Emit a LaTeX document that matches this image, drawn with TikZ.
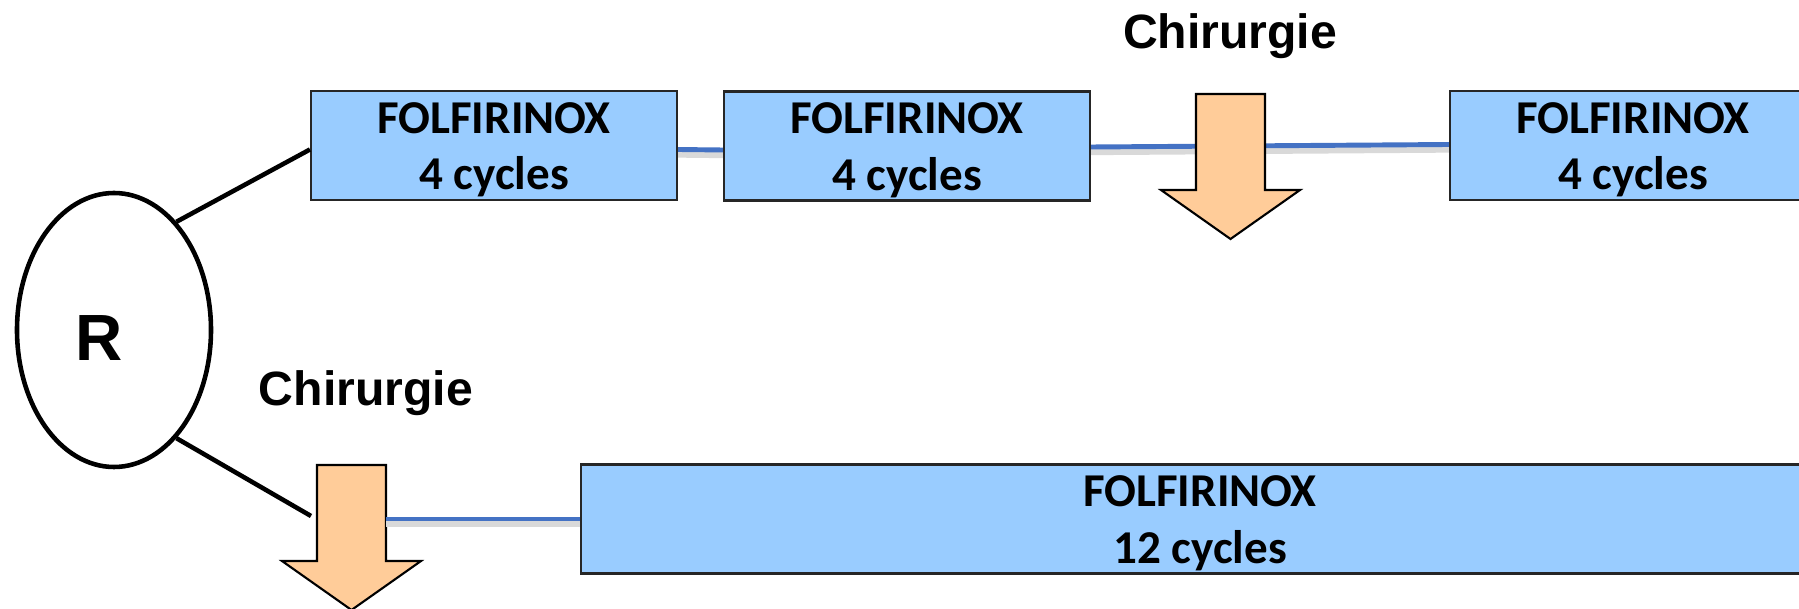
\documentclass[tikz,border=0pt]{standalone}
\usepackage{fontspec}
\usetikzlibrary{shapes.geometric}
\setmainfont{Liberation Sans}
\newfontfamily\calfont{Carlito}
\definecolor{boxblue}{HTML}{99CCFF}
\definecolor{armpeach}{HTML}{FFCC99}
\definecolor{linkblue}{HTML}{4472C4}
\tikzset{
	chir/.pic={
		\draw[line width=0.6pt, fill=armpeach] (-34.5,0) -- (34.5,0) -- (34.5,96) -- (69.5,96) -- (0,145) -- (-69.5,96) -- (-34.5,96) -- cycle;
		\coordinate (-r) at (34.5,54);
	}
}
\begin{document}
\begin{tikzpicture}[x=0.1mm, y=-0.1mm,
		arm/.style={rectangle, draw=black!85, line width=0.6pt, fill=boxblue, minimum width=36.6mm, minimum height=10.7mm, inner sep=0pt, align=center, text height=9.9mm, text depth=1mm, font=\calfont\bfseries\fontsize{13.4pt}{16.2pt}\selectfont},
		link/.style={linkblue, line width=1.4pt, preaction={draw=black!15, line width=1.8pt, transform canvas={yshift=-0.5mm}}},
		branch/.style={black, line width=1.3pt},
		chirtext/.style={anchor=base, font=\bfseries\fontsize{13.7pt}{16pt}\selectfont}
		]
	\useasboundingbox (0,0) rectangle (1799,609);
	\node [ellipse, draw, line width=1.3pt, minimum width=19.4mm, minimum height=27.4mm, inner sep=0pt,
		label={[font=\bfseries\fontsize{18.6pt}{20pt}\selectfont, xshift=-1.5mm, yshift=-0.8mm]center:R}] (rnd) at (114,330) {};
	% bras A
	\node [arm] (frx1) at (494,145.5) {FOLFIRINOX\\4 cycles};
	\node [arm] (frx2) at (907,146) {FOLFIRINOX\\4 cycles};
	\node [arm] (frx3) at (1633,145.5) {FOLFIRINOX\\4 cycles};
	\draw [link] ([yshift=-0.4mm]frx1.east) -- ([yshift=-0.4mm]frx2.west);
	\draw [link] ([yshift=-0.1mm]frx2.east) -- ([yshift=0.1mm]frx3.west);
	\pic (cutA) at (1230.5,94) {chir};
	\node [chirtext] (chirA) at (1230,49) {Chirurgie};
	% bras B
	\pic (cutB) at (351.5,465) {chir};
	\node [chirtext] (chirB) at (366,406) {Chirurgie};
	\node [arm, minimum width=123.8mm] (frx12) at (1200,519) {FOLFIRINOX\\12 cycles};
	\draw [link] (cutB-r) -- (frx12.west);
	\coordinate (gap) at (311,516);
	\draw [branch] (rnd.60) -- ([yshift=-0.4mm]frx1.west);
	\draw [branch] (rnd.-60) -- (gap);
\end{tikzpicture}
\end{document}
